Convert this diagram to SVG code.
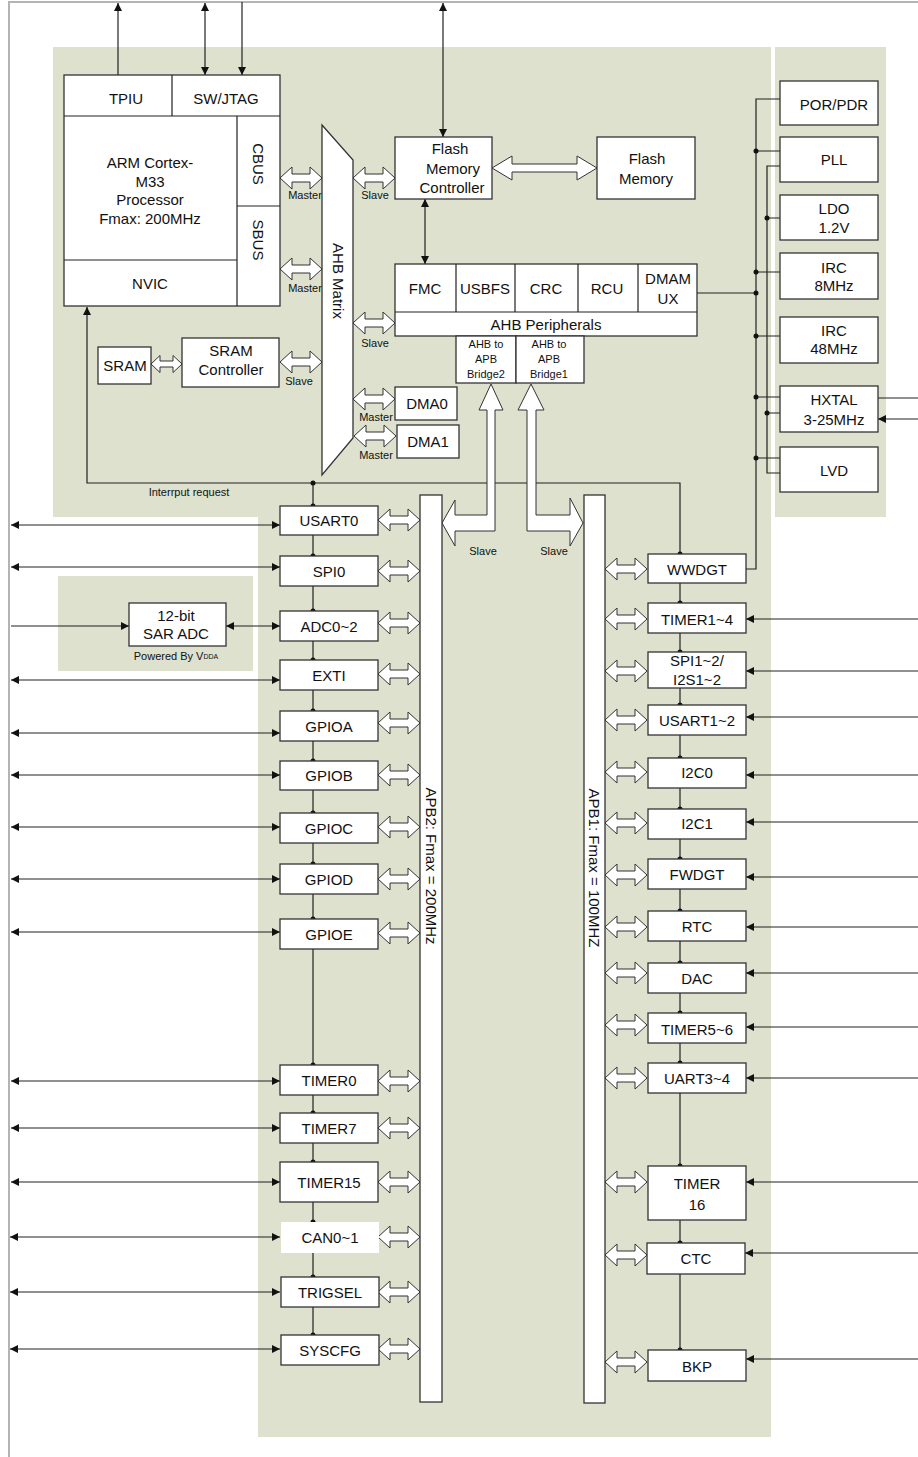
<svg xmlns="http://www.w3.org/2000/svg" xmlns:xlink="http://www.w3.org/1999/xlink" width="918" height="1457" viewBox="0 0 918 1457">
<style>
.bg{fill:#dde1ce}
.bx{fill:#fff;stroke:#333;stroke-width:1.3}
.t{font-family:"Liberation Sans",Arial,sans-serif;font-size:15px;fill:#111;text-anchor:middle;dominant-baseline:central}
.s{font-size:11px}
.ln{stroke:#222;stroke-width:1.2;fill:none}
.ar{marker-end:url(#ah)}
.ar2{marker-start:url(#ah);marker-end:url(#ah)}
.dot{fill:#111}
.ho{fill:#fff;stroke:#333;stroke-width:1}
</style>
<defs>
<marker id="ah" viewBox="0 0 10 10" refX="10" refY="5" markerWidth="9" markerHeight="8" markerUnits="userSpaceOnUse" orient="auto-start-reverse"><path d="M0,0 L10,5 L0,10 z" fill="#111"/></marker>
<path id="ha" class="ho" d="M0,0 L12,-11 L12,-4 L30,-4 L30,-11 L42,0 L30,11 L30,4 L12,4 L12,11 Z"/>
</defs>
<rect width="918" height="1457" fill="#fff"/>
<!-- background panels -->
<g id="panels">
<path class="bg" d="M53,47 H771 V1437 H258 V517 H53 Z"/>
<rect class="bg" x="775" y="47" width="111" height="470"/>
<rect class="bg" x="58" y="576" width="195" height="95"/>
<path d="M9,1457 V2 H918" fill="none" stroke="#b4b4b4" stroke-width="2"/>
</g>
<!-- connectors -->
<g id="connectors">
<path class="ln ar" d="M118,75 V3"/>
<path class="ln ar2" d="M205,3 V75"/>
<path class="ln ar" d="M242,2 V75"/>
<path class="ln ar2" d="M443,3 V137"/>
<path class="ln ar2" d="M425,199 V264"/>
<path class="ln ar" d="M680,554 V483 H87 V307"/>
<path class="ln" d="M313,483 V1335"/>
<path class="ln" d="M680,554 V1350"/>
<path class="ln" d="M697,293 H756"/>
<path class="ln" d="M780,99 H756 V569 H746"/>
<path class="ln" d="M756,151 H780 M756,272 H780 M756,336 H780 M756,397 H780 M756,458 H780"/>
<path class="ln" d="M780,166 H767 V473 H780 M767,218 H780 M767,413 H780"/>
<path class="ln" d="M878,398 H918"/>
<path class="ln ar" d="M918,419 H878"/>
<g class="dot">
<circle cx="756" cy="151" r="2.5"/><circle cx="756" cy="272" r="2.5"/><circle cx="756" cy="293" r="2.5"/><circle cx="756" cy="336" r="2.5"/><circle cx="756" cy="397" r="2.5"/><circle cx="756" cy="458" r="2.5"/><circle cx="767" cy="218" r="2.5"/><circle cx="767" cy="413" r="2.5"/>
<circle cx="313" cy="483" r="2.5"/><circle cx="313" cy="506" r="2.5"/><circle cx="313" cy="556" r="2.5"/><circle cx="313" cy="611" r="2.5"/><circle cx="313" cy="660" r="2.5"/><circle cx="313" cy="711" r="2.5"/><circle cx="313" cy="761" r="2.5"/><circle cx="313" cy="813" r="2.5"/><circle cx="313" cy="864" r="2.5"/><circle cx="313" cy="919" r="2.5"/><circle cx="313" cy="1065" r="2.5"/><circle cx="313" cy="1113" r="2.5"/><circle cx="313" cy="1162" r="2.5"/><circle cx="313" cy="1222" r="2.5"/><circle cx="313" cy="1277" r="2.5"/><circle cx="313" cy="1335" r="2.5"/>
<circle cx="680" cy="554" r="2.5"/><circle cx="680" cy="603" r="2.5"/><circle cx="680" cy="652" r="2.5"/><circle cx="680" cy="705" r="2.5"/><circle cx="680" cy="758" r="2.5"/><circle cx="680" cy="809" r="2.5"/><circle cx="680" cy="859" r="2.5"/><circle cx="680" cy="911" r="2.5"/><circle cx="680" cy="963" r="2.5"/><circle cx="680" cy="1013" r="2.5"/><circle cx="680" cy="1063" r="2.5"/><circle cx="680" cy="1166" r="2.5"/><circle cx="680" cy="1243" r="2.5"/><circle cx="680" cy="1350" r="2.5"/>
</g>
<!-- left external arrows -->
<path class="ln ar2" d="M11,525 H280"/>
<path class="ln ar2" d="M11,567 H280"/>
<path class="ln ar2" d="M11,680 H280"/>
<path class="ln ar2" d="M11,733 H280"/>
<path class="ln ar2" d="M11,775 H280"/>
<path class="ln ar2" d="M11,827 H280"/>
<path class="ln ar2" d="M11,879 H280"/>
<path class="ln ar2" d="M11,932 H280"/>
<path class="ln ar2" d="M11,1081 H280"/>
<path class="ln ar2" d="M11,1128 H280"/>
<path class="ln ar2" d="M11,1182 H280"/>
<path class="ln ar2" d="M10,1237 H280"/>
<path class="ln ar2" d="M10,1292 H280"/>
<path class="ln ar2" d="M10,1349 H280"/>
<path class="ln ar" d="M11,626 H129"/>
<path class="ln ar2" d="M226,626 H280"/>
<!-- right external arrows -->
<path class="ln ar" d="M918,619 H746"/>
<path class="ln ar" d="M918,671 H746"/>
<path class="ln ar" d="M918,717 H746"/>
<path class="ln ar" d="M918,775 H746"/>
<path class="ln ar" d="M918,822 H746"/>
<path class="ln ar" d="M918,877 H746"/>
<path class="ln ar" d="M918,927 H746"/>
<path class="ln ar" d="M918,973 H746"/>
<path class="ln ar" d="M918,1027 H746"/>
<path class="ln ar" d="M918,1078 H746"/>
<path class="ln ar" d="M918,1182 H746"/>
<path class="ln ar" d="M918,1253 H745"/>
<path class="ln ar" d="M918,1359 H746"/>
<!-- hollow bus arrows -->
<use href="#ha" x="280" y="178"/>
<use href="#ha" x="280" y="269"/>
<use href="#ha" x="353" y="178"/>
<use href="#ha" x="353" y="323"/>
<use href="#ha" x="280" y="362"/>
<use href="#ha" x="353" y="399"/>
<use href="#ha" x="354" y="436"/>
<path class="ho" d="M151,364 L160,355.5 L160,361 L173,361 L173,355.5 L182,364 L173,372.5 L173,367 L160,367 L160,372.5 Z"/>
<path class="ho" d="M492,168 L512,156 L512,164 L577,164 L577,156 L597,168 L577,180 L577,172 L512,172 L512,180 Z"/>
<path class="ho" d="M491,384 L503,410 L495,410 L495,531 L455,531 L455,546 L442,523 L455,500 L455,515 L487,515 L487,410 L479,410 Z"/>
<path class="ho" d="M531,384 L544,410 L536,410 L536,515 L570,515 L570,498 L583,523 L570,546 L570,531 L527,531 L527,410 L518,410 Z"/>
<use href="#ha" x="378" y="520"/><use href="#ha" x="378" y="571"/><use href="#ha" x="378" y="623"/><use href="#ha" x="378" y="674"/><use href="#ha" x="378" y="723"/><use href="#ha" x="378" y="775"/><use href="#ha" x="378" y="827"/><use href="#ha" x="378" y="879"/><use href="#ha" x="378" y="933"/><use href="#ha" x="378" y="1081"/><use href="#ha" x="378" y="1128"/><use href="#ha" x="378" y="1182"/><use href="#ha" x="378" y="1237"/><use href="#ha" x="378" y="1292"/><use href="#ha" x="378" y="1349"/>
<use href="#ha" x="605" y="569"/><use href="#ha" x="605" y="619"/><use href="#ha" x="605" y="671"/><use href="#ha" x="605" y="720"/><use href="#ha" x="605" y="772"/><use href="#ha" x="605" y="823"/><use href="#ha" x="605" y="875"/><use href="#ha" x="605" y="927"/><use href="#ha" x="605" y="973"/><use href="#ha" x="605" y="1025"/><use href="#ha" x="605" y="1078"/><use href="#ha" x="605" y="1182"/><use href="#ha" x="605" y="1255"/><use href="#ha" x="605" y="1362"/>
</g>
<!-- labels on connectors -->
<g id="bus-labels" class="t s">
<text x="305" y="195">Master</text>
<text x="305" y="288">Master</text>
<text x="375" y="195">Slave</text>
<text x="375" y="343">Slave</text>
<text x="299" y="381">Slave</text>
<text x="376" y="417">Master</text>
<text x="376" y="455">Master</text>
<text x="483" y="551">Slave</text>
<text x="554" y="551">Slave</text>
<text x="189" y="492">Interrput request</text>
</g>
<!-- CPU -->
<g id="cpu">
<rect class="bx" x="64" y="75" width="216" height="231"/>
<path class="ln" d="M64,116 H280 M172,75 V116 M237,116 V306 M237,206 H280 M64,260 H237"/>
<text class="t" x="126" y="98">TPIU</text>
<text class="t" x="226" y="98">SW/JTAG</text>
<text class="t" x="150" y="162">ARM Cortex-</text>
<text class="t" x="150" y="181">M33</text>
<text class="t" x="150" y="199">Processor</text>
<text class="t" x="150" y="218">Fmax: 200MHz</text>
<text class="t" transform="translate(258,164) rotate(90)">CBUS</text>
<text class="t" transform="translate(258,240) rotate(90)">SBUS</text>
<text class="t" x="150" y="283">NVIC</text>
</g>
<g id="ahb-matrix">
<polygon class="bx" points="322,125 353,160 353,438 322,475"/>
<text class="t" transform="translate(338,281) rotate(90)">AHB Matrix</text>
</g>
<g id="flash-ctrl">
<rect class="bx" x="395" y="137" width="97" height="62"/>
<text class="t" x="450" y="148">Flash</text>
<text class="t" x="453" y="168">Memory</text>
<text class="t" x="452" y="187">Controller</text>
</g>
<g id="flash-mem">
<rect class="bx" x="597" y="137" width="98" height="62"/>
<text class="t" x="647" y="158">Flash</text>
<text class="t" x="646" y="178">Memory</text>
</g>
<g id="ahb-periph">
<rect class="bx" x="395" y="264" width="302" height="72"/>
<path class="ln" d="M395,312 H697 M456,264 V312 M515,264 V312 M578,264 V312 M638,264 V312"/>
<text class="t" x="425" y="288">FMC</text>
<text class="t" x="485" y="288">USBFS</text>
<text class="t" x="546" y="288">CRC</text>
<text class="t" x="607" y="288">RCU</text>
<text class="t" x="668" y="278">DMAM</text>
<text class="t" x="668" y="298">UX</text>
<text class="t" x="546" y="324">AHB Peripherals</text>
</g>
<g id="bridge2">
<rect class="bx" x="456" y="336" width="60" height="47"/>
<text class="t s" x="486" y="344">AHB to</text>
<text class="t s" x="486" y="359">APB</text>
<text class="t s" x="486" y="374">Bridge2</text>
</g>
<g id="bridge1">
<rect class="bx" x="516" y="336" width="68" height="47"/>
<text class="t s" x="549" y="344">AHB to</text>
<text class="t s" x="549" y="359">APB</text>
<text class="t s" x="549" y="374">Bridge1</text>
</g>
<g id="sram">
<rect class="bx" x="98" y="347" width="53" height="37"/>
<text class="t" x="125" y="365">SRAM</text>
</g>
<g id="sram-ctrl">
<rect class="bx" x="182" y="338" width="97" height="49"/>
<text class="t" x="231" y="350">SRAM</text>
<text class="t" x="231" y="369">Controller</text>
</g>
<g id="dma0">
<rect class="bx" x="395" y="387" width="62" height="33"/>
<text class="t" x="427" y="403">DMA0</text>
</g>
<g id="dma1">
<rect class="bx" x="397" y="425" width="62" height="33"/>
<text class="t" x="428" y="441">DMA1</text>
</g>
<!-- clock / power -->
<g id="por"><rect class="bx" x="780" y="81" width="98" height="44"/><text class="t" x="834" y="104">POR/PDR</text></g>
<g id="pll"><rect class="bx" x="780" y="137" width="98" height="45"/><text class="t" x="834" y="159">PLL</text></g>
<g id="ldo"><rect class="bx" x="780" y="195" width="98" height="45"/><text class="t" x="834" y="208">LDO</text><text class="t" x="834" y="227">1.2V</text></g>
<g id="irc8"><rect class="bx" x="780" y="253" width="98" height="46"/><text class="t" x="834" y="267">IRC</text><text class="t" x="834" y="285">8MHz</text></g>
<g id="irc48"><rect class="bx" x="780" y="317" width="98" height="46"/><text class="t" x="834" y="330">IRC</text><text class="t" x="834" y="348">48MHz</text></g>
<g id="hxtal"><rect class="bx" x="780" y="386" width="98" height="46"/><text class="t" x="834" y="399">HXTAL</text><text class="t" x="834" y="419">3-25MHz</text></g>
<g id="lvd"><rect class="bx" x="780" y="447" width="98" height="45"/><text class="t" x="834" y="470">LVD</text></g>
<!-- ADC -->
<g id="sar-adc">
<rect class="bx" x="129" y="603" width="97" height="43"/>
<text class="t" x="176" y="615">12-bit</text>
<text class="t" x="176" y="633">SAR ADC</text>
<text class="t s" x="176" y="656">Powered By V<tspan font-size="7">DDA</tspan></text>
</g>
<!-- buses -->
<g id="apb2">
<rect class="bx" x="420" y="495" width="22" height="907"/>
<text class="t" transform="translate(431,866) rotate(90)">APB2: Fmax = 200MHz</text>
</g>
<g id="apb1">
<rect class="bx" x="584" y="495" width="21" height="908"/>
<text class="t" transform="translate(594,868) rotate(90)">APB1: Fmax = 100MHZ</text>
</g>
<!-- APB2 peripherals -->
<g id="usart0"><rect class="bx" x="280" y="506" width="98" height="29"/><text class="t" x="329" y="520">USART0</text></g>
<g id="spi0"><rect class="bx" x="280" y="556" width="98" height="30"/><text class="t" x="329" y="571">SPI0</text></g>
<g id="adc"><rect class="bx" x="280" y="611" width="98" height="30"/><text class="t" x="329" y="626">ADC0~2</text></g>
<g id="exti"><rect class="bx" x="280" y="660" width="98" height="30"/><text class="t" x="329" y="675">EXTI</text></g>
<g id="gpioa"><rect class="bx" x="280" y="711" width="98" height="30"/><text class="t" x="329" y="726">GPIOA</text></g>
<g id="gpiob"><rect class="bx" x="280" y="761" width="98" height="29"/><text class="t" x="329" y="775">GPIOB</text></g>
<g id="gpioc"><rect class="bx" x="280" y="813" width="98" height="30"/><text class="t" x="329" y="828">GPIOC</text></g>
<g id="gpiod"><rect class="bx" x="280" y="864" width="98" height="30"/><text class="t" x="329" y="879">GPIOD</text></g>
<g id="gpioe"><rect class="bx" x="280" y="919" width="98" height="30"/><text class="t" x="329" y="934">GPIOE</text></g>
<g id="timer0"><rect class="bx" x="280" y="1065" width="98" height="30"/><text class="t" x="329" y="1080">TIMER0</text></g>
<g id="timer7"><rect class="bx" x="280" y="1113" width="98" height="30"/><text class="t" x="329" y="1128">TIMER7</text></g>
<g id="timer15"><rect class="bx" x="280" y="1162" width="98" height="40"/><text class="t" x="329" y="1182">TIMER15</text></g>
<g id="can"><rect x="281" y="1222" width="98" height="31" fill="#fff"/><text class="t" x="330" y="1237">CAN0~1</text></g>
<g id="trigsel"><rect class="bx" x="281" y="1277" width="98" height="30"/><text class="t" x="330" y="1292">TRIGSEL</text></g>
<g id="syscfg"><rect class="bx" x="281" y="1335" width="98" height="30"/><text class="t" x="330" y="1350">SYSCFG</text></g>
<!-- APB1 peripherals -->
<g id="wwdgt"><rect class="bx" x="648" y="554" width="98" height="29"/><text class="t" x="697" y="569">WWDGT</text></g>
<g id="timer1-4"><rect class="bx" x="648" y="603" width="98" height="30"/><text class="t" x="697" y="619">TIMER1~4</text></g>
<g id="spi1-2"><rect class="bx" x="648" y="652" width="98" height="36"/><text class="t" x="697" y="660">SPI1~2/</text><text class="t" x="697" y="679">I2S1~2</text></g>
<g id="usart1-2"><rect class="bx" x="648" y="705" width="98" height="30"/><text class="t" x="697" y="720">USART1~2</text></g>
<g id="i2c0"><rect class="bx" x="648" y="758" width="98" height="30"/><text class="t" x="697" y="772">I2C0</text></g>
<g id="i2c1"><rect class="bx" x="648" y="809" width="98" height="30"/><text class="t" x="697" y="823">I2C1</text></g>
<g id="fwdgt"><rect class="bx" x="648" y="859" width="98" height="30"/><text class="t" x="697" y="874">FWDGT</text></g>
<g id="rtc"><rect class="bx" x="648" y="911" width="98" height="30"/><text class="t" x="697" y="926">RTC</text></g>
<g id="dac"><rect class="bx" x="648" y="963" width="98" height="30"/><text class="t" x="697" y="978">DAC</text></g>
<g id="timer5-6"><rect class="bx" x="648" y="1013" width="98" height="30"/><text class="t" x="697" y="1029">TIMER5~6</text></g>
<g id="uart3-4"><rect class="bx" x="648" y="1063" width="98" height="30"/><text class="t" x="697" y="1078">UART3~4</text></g>
<g id="timer16"><rect class="bx" x="648" y="1166" width="98" height="54"/><text class="t" x="697" y="1183">TIMER</text><text class="t" x="697" y="1204">16</text></g>
<g id="ctc"><rect class="bx" x="647" y="1243" width="98" height="31"/><text class="t" x="696" y="1258">CTC</text></g>
<g id="bkp"><rect class="bx" x="648" y="1350" width="98" height="31"/><text class="t" x="697" y="1366">BKP</text></g>
</svg>
